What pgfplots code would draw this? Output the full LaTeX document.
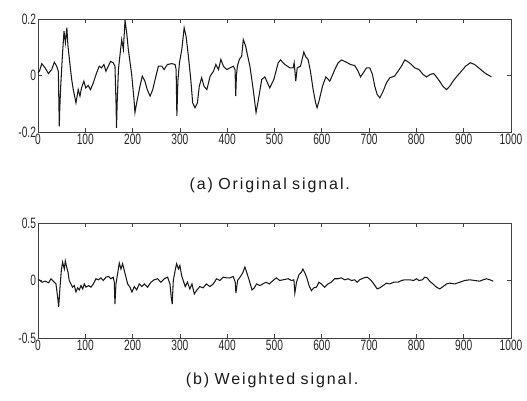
\documentclass[border=0pt]{standalone}
\usepackage{fontspec}
\setmainfont{Liberation Sans}
\newfontfamily\tickfont[FakeStretch=0.68]{Liberation Sans}
\newfontfamily\capfont[LetterSpace=12]{Liberation Sans}
\usepackage{pgfplots}
\pgfplotsset{compat=1.18}
\pgfplotsset{sig/.style={
  scale only axis, width=473pt, xmin=0, xmax=1000,
  xtick={0,100,...,1000},
  xticklabels={0,100,200,300,400,500,600,700,800,900,1000},
  tick align=inside, tick pos=both,
  axis line style={black!75, line width=0.8pt},
  major tick length=4pt, tick style={black!75, line width=0.7pt},
  ticklabel style={font=\tickfont\fontsize{15}{15}\selectfont, text=black!85},
  /pgf/number format/assume math mode=true,
  xticklabel style={yshift=2pt},
  yticklabel style={xshift=1.5pt},
  clip=false,
}}
\begin{document}
\begin{tikzpicture}
\useasboundingbox (-38pt,-63pt) rectangle (489pt,338pt);
% (a) Original signal
\begin{axis}[sig, at={(0pt,206pt)}, anchor=south west, height=113pt,
  ymin=-0.2, ymax=0.2, ytick={-0.2,0,0.2}, yticklabels={-0.2,0,0.2}]
\addplot[black!90, line width=1.05pt] coordinates {
(0,0.01) (3,0.015) (8,0.042) (15,0.027) (22,0.007) (29,0.021) (34.5,0.047) (39.5,0.033) (43,0.015) (45,-0.18) (46,-0.12) (48,-0.038) (51.5,0.068) (55,0.157) (58,0.116) (61,0.169) (63.4,0.104) (68,0.033) (71.2,-0.014) (74.6,-0.05) (80.3,-0.097) (85,-0.05) (88.7,-0.073) (92,-0.044) (97,-0.02) (101,-0.044) (106,-0.035) (111,-0.05) (117,-0.026) (124,0.01) (129.6,0.033) (134,0.027) (139.4,0.039) (143.6,0.015) (148.6,0.033) (153.5,0.05) (159,0.045) (162.7,0.033) (165,-0.1) (166,-0.185) (167.5,-0.09) (170,0.02) (173,0.068) (177,0.127) (180.5,0.092) (184,0.196) (187.5,0.151) (191,0.092) (198,0.004) (203,-0.085) (205,-0.131) (208.6,-0.097) (215.6,-0.038) (220.5,-0.002) (226,-0.02) (231,-0.05) (237,-0.073) (242.6,-0.05) (247.6,-0.014) (254.6,0.033) (261.7,0.033) (266.6,0.021) (273.6,0.039) (282.8,0.042) (289.8,0.039) (292,0.021) (293.6,-0.144) (295.7,-0.02) (299,0.045) (304,0.092) (309,0.169) (313,0.139) (318,0.068) (323,-0.014) (327,-0.097) (332,-0.114) (337,-0.097) (341,-0.038) (346,-0.008) (351,-0.038) (357,-0.05) (364,-0.002) (371,0.015) (376,0.039) (381.6,0.021) (386.6,0.057) (392,0.033) (399,0.021) (406,0.027) (413,0.033) (416.6,0.021) (418,-0.073) (419.5,0.0) (421.5,0.033) (425.7,0.057) (430.6,0.068) (434,0.127) (439,0.104) (442.6,0.074) (448,0.033) (455,-0.05) (461,-0.131) (466,-0.085) (473,-0.014) (479.6,-0.005) (490,-0.044) (498.6,-0.014) (507.8,0.045) (512.7,0.055) (521.9,0.039) (532.4,0.027) (539.4,0.027) (541.6,0.045) (545,-0.02) (548,0.027) (555,0.033) (562,0.083) (566,0.066) (571,0.057) (576,0.015) (581.7,-0.05) (587,-0.097) (590,-0.114) (594,-0.091) (601.5,-0.038) (608.5,-0.005) (617,-0.02) (627.5,0.021) (634.6,0.045) (641.6,0.055) (650.7,0.048) (660.6,0.039) (669.8,0.035) (676.8,0.015) (681.8,-0.005) (687.5,0.009) (694.5,0.027) (701.5,0.027) (707,0.004) (712,-0.038) (717,-0.067) (722.6,-0.079) (729.6,-0.056) (736.7,-0.026) (743.7,-0.008) (754,-0.002) (761,0.015) (768.4,0.033) (775.4,0.055) (780,0.051) (789.6,0.039) (796.5,0.027) (805.6,0.021) (814,0.004) (821,-0.005) (829.7,0.004) (836.7,0.007) (842.4,-0.005) (849,-0.02) (856,-0.038) (863.5,-0.05) (870.5,-0.038) (877.5,-0.02) (886,-0.002) (895,0.015) (904,0.033) (914,0.045) (923,0.039) (934,0.024) (944.5,0.009) (958.6,-0.005)
};
\node[font=\capfont\fontsize{16}{16}\selectfont, text=black!90] at (rel axis cs:0.49,0) [yshift=-53pt] {(a)\,\,Original\,\,signal.};
\end{axis}
% (b) Weighted signal
\begin{axis}[sig, at={(0pt,0pt)}, anchor=south west, height=115pt,
  ymin=-0.5, ymax=0.5, ytick={-0.5,0,0.5}, yticklabels={-0.5,0,0.5}]
\addplot[black!90, line width=1.05pt] coordinates {
(0,0.006) (3,0.006) (8.5,-0.015) (15.5,-0.006) (22.5,-0.02) (27.5,0.015) (34.5,-0.015) (38,-0.03) (41.6,-0.146) (43.7,-0.23) (46.5,-0.06) (49.3,0.088) (52,0.16) (55.6,0.1) (57.7,0.17) (60.6,0.117) (63.4,0.073) (66,0) (69.7,-0.03) (73,-0.058) (76.8,-0.044) (80.3,-0.1) (83.8,-0.064) (87.3,-0.082) (90.8,-0.044) (94.4,-0.073) (97.9,-0.03) (101.4,-0.058) (107,-0.044) (112,-0.058) (117,-0.03) (122.5,0.015) (128,0.006) (133,0.023) (138,0) (143.7,0.029) (149.3,0.035) (154.3,0.015) (159,0.029) (161.3,-0.015) (162.7,-0.205) (164.8,-0.03) (168.3,0.058) (171.8,0.152) (175.4,0.1) (178.9,0.146) (182.4,0.088) (186,0.029) (189.5,-0.03) (194.4,-0.058) (198.6,-0.1) (203.6,-0.053) (208.6,-0.082) (214,-0.03) (219.7,-0.053) (224.7,-0.03) (231.7,-0.058) (238.7,-0.015) (245.7,0.006) (252.8,0.015) (259.8,-0.015) (266.9,0.015) (274,0.029) (279,-0.03) (281.7,-0.146) (283.8,-0.205) (286,0) (290,0.088) (293,0.146) (297,0.1) (300,0.13) (303.6,0.044) (307,0) (311.3,-0.053) (316,-0.015) (321,-0.073) (325.5,-0.03) (330.5,-0.117) (335,-0.088) (342,-0.053) (349,-0.064) (356,-0.03) (363.4,-0.053) (370.5,-0.03) (377.5,0.015) (384.5,0) (391.6,0.029) (398.6,0.023) (405.7,0.023) (412.7,0.035) (417,-0.015) (418.4,-0.11) (422,0) (427,0.029) (432.6,0.064) (437.5,0.117) (441,0.073) (446.7,0) (452.4,-0.082) (457.3,-0.064) (462,-0.03) (469.4,-0.044) (475,-0.03) (482,-0.015) (489,-0.03) (497,0) (504,0.023) (511,0) (518,0.006) (529,0.015) (536,0) (541,0.006) (543,-0.11) (546.5,-0.015) (552,0.053) (557,0.073) (560,0.1) (565,0.058) (569,0.015) (573,-0.044) (578,-0.088) (583,-0.064) (588.7,-0.058) (594,-0.015) (599,-0.03) (606,-0.058) (613,-0.03) (620,-0.015) (627,0.015) (634,0.015) (641,0.023) (648.6,0.006) (655.6,0.015) (662.6,0) (669.6,0.006) (674.6,-0.015) (680,0.006) (689,0.023) (696,0.029) (703,0.006) (710,-0.03) (717,-0.073) (722.6,-0.064) (729.6,-0.044) (736.7,-0.023) (743.7,-0.03) (752,-0.015) (761,-0.015) (768.4,0) (775.4,0.006) (786,0.006) (794.4,0) (800,0.015) (805.6,0) (812.6,0.006) (817.6,0.029) (822.6,0.023) (828,-0.006) (835,-0.03) (842.4,-0.058) (849.4,-0.073) (856.5,-0.053) (863.5,-0.03) (870.5,-0.023) (881,-0.03) (891.7,-0.015) (902,0) (912.8,0.006) (923.4,0) (934,-0.006) (941,0.006) (948,0.015) (955.4,0.006) (962.4,-0.006)
};
\node[font=\capfont\fontsize{16}{16}\selectfont, text=black!90] at (rel axis cs:0.495,0) [yshift=-42pt] {(b)\,\,Weighted\,\,signal.};
\end{axis}
\end{tikzpicture}
\end{document}
